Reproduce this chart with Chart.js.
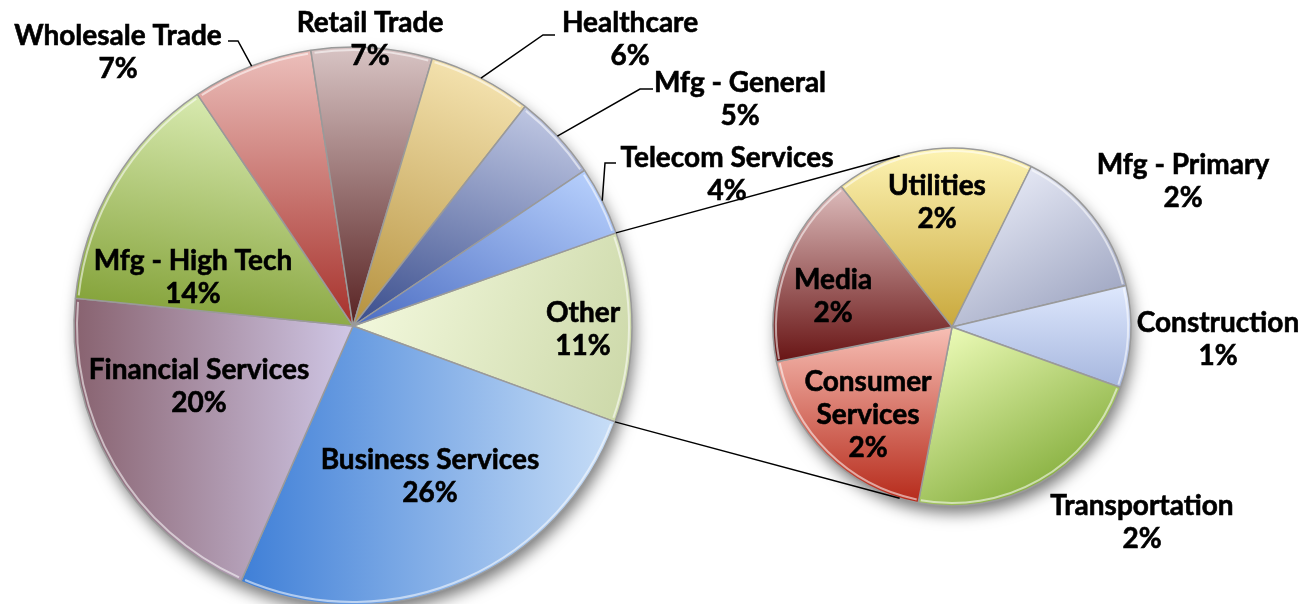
<!DOCTYPE html>
<html>
<head>
<meta charset="utf-8">
<script src="https://cdn.jsdelivr.net/npm/chart.js@4"></script>
<style>
  html, body { margin: 0; padding: 0; background: #fff; }
  #wrap { position: relative; width: 1303px; height: 604px; }
  canvas { position: absolute; left: 0; top: 0; }
</style>
</head>
<body>
<div id="wrap">
  <canvas id="mainPie" width="1303" height="604"></canvas>
  <canvas id="otherPie" width="1303" height="604"></canvas>
</div>
<script>
// main pie, clockwise starting from "Other"
const mainLabels = ['Other', 'Business Services', 'Financial Services', 'Mfg - High Tech',
  'Wholesale Trade', 'Retail Trade', 'Healthcare', 'Mfg - General', 'Telecom Services'];
const mainValues = [11, 26, 20, 14, 7, 7, 6, 5, 4];

// breakdown of "Other" (share of the grand total, %)
const otherLabels = ['Utilities', 'Mfg - Primary', 'Construction', 'Transportation',
  'Consumer\nServices', 'Media'];
const otherValues = [1.95, 1.52, 1.0, 2.45, 2.05, 1.9];

// [light, dark, direction of light in degrees clockwise from top]
const mainStyles = [
  ['#f2f8dc', '#cdd9aa', 290],
  ['#c8def7', '#3f7fd7', 90],
  ['#d0c7e6', '#88626f', 90],
  ['#d8eab0', '#86a43c', 10],
  ['#ecbfbb', '#a6302a', 0],
  ['#d8c4c4', '#582222', 0],
  ['#f3e1ad', '#b5913e', 20],
  ['#bec6e2', '#384c8c', 20],
  ['#b6cffc', '#4a6cc2', 30]
];
const otherStyles = [
  ['#fef4b4', '#c9a83c', 0],
  ['#e3e6f3', '#a3aac5', 330],
  ['#dee8fd', '#a6b6de', 0],
  ['#ebfab6', '#8db446', 330],
  ['#f7bfb5', '#b62a1a', 0],
  ['#ddbcbc', '#681414', 0]
];

// label block centres relative to pie centre
const mainLabelPos = [[230, 3], [77, 150], [-154, 60], [-160, -49], [-235, -274],
  [17, -287], [277, -287], [387, -227], [374, -152]];
const otherLabelPos = [[-15, -125], [231, -146], [266, 12], [190, 195], [-84, 88], [-119, -31]];

// leader lines: elbow relative to pie centre and horizontal tick length
const mainLeaders = { 4: [-115, -285, -10], 6: [190, -291, 12], 7: [287, -237, 13], 8: [252, -163, 11] };

const FONT = 'bold 28px Lato';
const LINE = 33;

function sliceFill(c, styles) {
  const st = styles[c.dataIndex];
  const chart = c.chart, area = chart.chartArea;
  if (!st) return '#ccc';
  if (!area || c.type !== 'data') return st[0];
  const data = c.dataset.data;
  const total = data.reduce((a, b) => a + b, 0);
  let start = chart.options.rotation;
  for (let k = 0; k < c.dataIndex; k++) start += data[k] / total * 360;
  const end = start + data[c.dataIndex] / total * 360;
  const cx = (area.left + area.right) / 2, cy = (area.top + area.bottom) / 2;
  const r = chart.options.radius;
  const th = st[2] * Math.PI / 180, ux = Math.sin(th), uy = -Math.cos(th);
  let lo = 0, hi = 0;
  for (let a = start; ; a += 2) {
    const aa = Math.min(a, end) * Math.PI / 180;
    const p = r * Math.sin(aa) * ux - r * Math.cos(aa) * uy;
    lo = Math.min(lo, p); hi = Math.max(hi, p);
    if (a >= end) break;
  }
  const g = chart.ctx.createLinearGradient(cx + ux * lo, cy + uy * lo, cx + ux * hi, cy + uy * hi);
  g.addColorStop(0, st[1]);
  g.addColorStop(1, st[0]);
  return g;
}

const shadowPlugin = {
  id: 'pieShadow',
  beforeDatasetsDraw(chart) {
    const arc = chart.getDatasetMeta(0).data[0];
    if (!arc) return;
    const ctx = chart.ctx;
    ctx.save();
    ctx.shadowColor = 'rgba(0,0,0,0.55)';
    ctx.shadowBlur = 16;
    ctx.shadowOffsetX = 3;
    ctx.shadowOffsetY = 8;
    ctx.fillStyle = '#fff';
    ctx.beginPath();
    ctx.arc(arc.x, arc.y, arc.outerRadius - 1, 0, Math.PI * 2);
    ctx.fill();
    ctx.restore();
  },
  afterDatasetsDraw(chart) {
    // bevel highlight along the rim
    const ctx = chart.ctx;
    ctx.save();
    ctx.strokeStyle = 'rgba(255,255,255,0.55)';
    ctx.lineWidth = 2;
    chart.getDatasetMeta(0).data.forEach(arc => {
      ctx.beginPath();
      ctx.arc(arc.x, arc.y, arc.outerRadius - 3, arc.startAngle + 0.012, arc.endAngle - 0.012);
      ctx.stroke();
    });
    ctx.restore();
  }
};

function labelPlugin(names, values, pos, leaders) {
  return {
    id: 'sliceLabels',
    afterDatasetsDraw(chart) {
      const ctx = chart.ctx;
      const arcs = chart.getDatasetMeta(0).data;
      const cx = arcs[0].x, cy = arcs[0].y;
      ctx.save();
      ctx.strokeStyle = '#000';
      ctx.lineWidth = 1.5;
      Object.keys(leaders).forEach(k => {
        const arc = arcs[k], ld = leaders[k];
        const mid = (arc.startAngle + arc.endAngle) / 2;
        ctx.beginPath();
        ctx.moveTo(cx + Math.cos(mid) * arc.outerRadius, cy + Math.sin(mid) * arc.outerRadius);
        ctx.lineTo(cx + ld[0], cy + ld[1]);
        ctx.lineTo(cx + ld[0] + ld[2], cy + ld[1]);
        ctx.stroke();
      });
      ctx.font = FONT;
      ctx.fillStyle = '#000';
      ctx.lineWidth = 0.6;
      ctx.textAlign = 'center';
      ctx.textBaseline = 'middle';
      names.forEach((name, i) => {
        const lines = name.split('\n').concat(Math.round(values[i]) + '%');
        const y0 = cy + pos[i][1] - (lines.length - 1) * LINE / 2;
        lines.forEach((t, j) => {
          ctx.fillText(t, cx + pos[i][0], y0 + j * LINE);
          ctx.strokeText(t, cx + pos[i][0], y0 + j * LINE);
        });
      });
      ctx.restore();
    }
  };
}

const mainChart = new Chart(document.getElementById('mainPie'), {
  type: 'pie',
  data: {
    labels: mainLabels,
    datasets: [{
      data: mainValues,
      backgroundColor: c => sliceFill(c, mainStyles),
      borderColor: '#9a9a9a',
      borderWidth: 1.5
    }]
  },
  options: {
    responsive: false,
    animation: false,
    events: [],
    rotation: 70.5,
    radius: 279,
    layout: { padding: { left: 0, right: 597, top: 48, bottom: 0 } },
    plugins: { legend: { display: false }, tooltip: { enabled: false } }
  },
  plugins: [shadowPlugin, labelPlugin(mainLabels, mainValues, mainLabelPos, mainLeaders)]
});

const connectorPlugin = {
  id: 'connectors',
  afterDraw(chart) {
    const other = mainChart.getDatasetMeta(0).data[0];
    const sub = chart.getDatasetMeta(0).data[0];
    const ctx = chart.ctx;
    const ends = [[other.startAngle, -107], [other.endAngle, 107]];
    ctx.save();
    ctx.strokeStyle = '#000';
    ctx.lineWidth = 1.5;
    ends.forEach(([a, b]) => {
      const bb = b * Math.PI / 180;
      ctx.beginPath();
      ctx.moveTo(other.x + Math.cos(a) * other.outerRadius, other.y + Math.sin(a) * other.outerRadius);
      ctx.lineTo(sub.x + Math.cos(bb) * sub.outerRadius, sub.y + Math.sin(bb) * sub.outerRadius);
      ctx.stroke();
    });
    ctx.restore();
  }
};

new Chart(document.getElementById('otherPie'), {
  type: 'pie',
  data: {
    labels: otherLabels,
    datasets: [{
      data: otherValues,
      backgroundColor: c => sliceFill(c, otherStyles),
      borderColor: '#9a9a9a',
      borderWidth: 1.5
    }]
  },
  options: {
    responsive: false,
    animation: false,
    events: [],
    rotation: -38.3,
    radius: 179,
    layout: { padding: { left: 601, right: 0, top: 50, bottom: 0 } },
    plugins: { legend: { display: false }, tooltip: { enabled: false } }
  },
  plugins: [shadowPlugin, labelPlugin(otherLabels, otherValues, otherLabelPos, {}), connectorPlugin]
});
</script>
</body>
</html>
